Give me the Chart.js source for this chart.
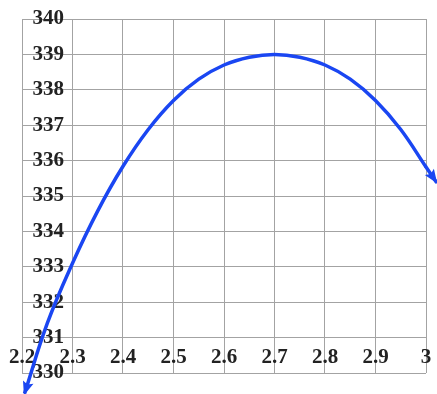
<!DOCTYPE html>
<html>
<head>
<meta charset="utf-8">
<script src="https://cdn.jsdelivr.net/npm/chart.js@4.4.1/dist/chart.umd.min.js"></script>
<style>
  html, body { margin: 0; padding: 0; background: #fff; }
  #wrap { width: 437px; height: 394px; }
</style>
</head>
<body>
<div id="wrap"><canvas id="chart" width="437" height="394"></canvas></div>
<script>
// Curve points
const xValues = [2.205, 2.25, 2.3, 2.35, 2.4, 2.45, 2.5, 2.55, 2.6, 2.65, 2.7, 2.75, 2.8, 2.85, 2.9, 2.95, 3.0, 3.02];
const yValues = [329.42, 331.4, 333.1, 334.58, 335.84, 336.88, 337.7, 338.3, 338.7, 338.92, 339.0, 338.92, 338.7, 338.3, 337.7, 336.88, 335.82, 335.4];

// Axis ticks
const xTickValues = [2.2, 2.3, 2.4, 2.5, 2.6, 2.7, 2.8, 2.9, 3.0];
const xTickLabels = ['2.2', '2.3', '2.4', '2.5', '2.6', '2.7', '2.8', '2.9', '3'];
const yTickValues = [330, 331, 332, 333, 334, 335, 336, 337, 338, 339, 340];
const yTickLabels = ['330', '331', '332', '333', '334', '335', '336', '337', '338', '339', '340'];

const BLUE = '#1a46f2';
const GRID = '#a3a3a3';
const tickFont = { family: '"Liberation Serif", "DejaVu Serif", serif', size: 21, weight: 'bold' };

// arrowheads at both ends of the curve (the line stops at the x max, so the
// last short piece past 3 is drawn here too)
const arrowPlugin = {
    id: 'arrows',
    afterDatasetsDraw(chart) {
        const ctx = chart.ctx;
        const sx = chart.scales.x, sy = chart.scales.y;
        const px = i => ({ x: sx.getPixelForValue(xValues[i]), y: sy.getPixelForValue(yValues[i]) });
        const n = xValues.length;
        const drawHead = (tip, from) => {
            const ang = Math.atan2(tip.y - from.y, tip.x - from.x);
            const len = 12, half = 5.5;
            ctx.save();
            ctx.translate(tip.x, tip.y);
            ctx.rotate(ang);
            ctx.beginPath();
            ctx.moveTo(2, 0);
            ctx.lineTo(-len, -half);
            ctx.lineTo(-len * 0.8, 0);
            ctx.lineTo(-len, half);
            ctx.closePath();
            ctx.fillStyle = BLUE;
            ctx.fill();
            ctx.restore();
        };
        const a = px(n - 2), b = px(n - 1);
        ctx.save();
        ctx.strokeStyle = BLUE;
        ctx.lineWidth = 3.5;
        ctx.lineCap = 'round';
        ctx.beginPath();
        ctx.moveTo(a.x, a.y);
        ctx.lineTo(b.x, b.y);
        ctx.stroke();
        ctx.restore();
        drawHead(px(0), px(1));
        drawHead(b, a);
    }
};

new Chart(document.getElementById('chart'), {
    type: 'scatter',
    data: {
        datasets: [{
            data: xValues.map((x, i) => ({ x: x, y: yValues[i] })),
            showLine: true,
            borderColor: BLUE,
            borderWidth: 3.5,
            pointRadius: 0,
            tension: 0.4,
            clip: false
        }]
    },
    options: {
        responsive: false,
        animation: false,
        events: [],
        layout: { padding: { left: 22, right: 11, top: 19, bottom: 21 } },
        plugins: { legend: { display: false }, tooltip: { enabled: false } },
        scales: {
            x: {
                type: 'linear',
                min: 2.2,
                max: 3.0,
                position: { y: 330.8 },
                afterBuildTicks: s => { s.ticks = xTickValues.map(v => ({ value: v })); },
                grid: { color: GRID, lineWidth: 1, drawTicks: false },
                border: { display: false },
                ticks: {
                    padding: 0,
                    font: tickFont,
                    color: '#222',
                    maxRotation: 0,
                    autoSkip: false,
                    callback: (v, i) => xTickLabels[i]
                }
            },
            y: {
                type: 'linear',
                min: 330,
                max: 340,
                position: { x: 2.283 },
                afterBuildTicks: s => { s.ticks = yTickValues.map(v => ({ value: v })); },
                grid: { color: GRID, lineWidth: 1, drawTicks: false },
                border: { display: false },
                ticks: {
                    padding: 0,
                    font: tickFont,
                    color: '#222',
                    autoSkip: false,
                    callback: (v, i) => yTickLabels[i]
                }
            }
        }
    },
    plugins: [arrowPlugin]
});
</script>
</body>
</html>
